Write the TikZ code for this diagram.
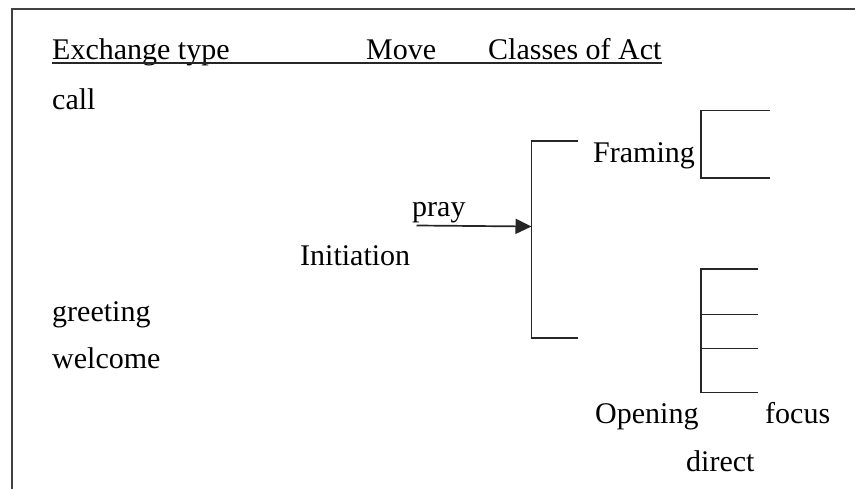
\documentclass[tikz,border=0pt]{standalone}
\usepackage{fontspec}
\setmainfont{Liberation Serif}
\usetikzlibrary{arrows.meta,calc}
\begin{document}
\begin{tikzpicture}[x=1pt,y=-1pt,
  lbl/.style={anchor=base west,inner sep=0pt,font=\fontsize{30}{34}\selectfont},
  ln/.style={line width=1.7pt,draw=black!85},
  frame/.style={line width=2.2pt,draw=black!75}]
\useasboundingbox (0,0) rectangle (855,489);
\fill[white] (0,0) rectangle (855,489);
% frame
\draw[frame] (12,489) -- (12,9) -- (855,9);
% header
\node[lbl] (hex) at (52,59.5) {Exchange type};
\node[lbl] (hmv) at (366,59.5) {Move};
\node[lbl] (hca) at (488,59.5) {Classes of Act};
\draw[ln,line width=1.8pt] ($(hex.base west)+(0,3.5)$) -- ($(hca.base east)+(0,3.5)$);
% left column
\node[lbl] (call) at (52,110) {call};
\node[lbl] (greet) at (52,321.5) {greeting};
\node[lbl] (welc) at (52,368) {welcome};
% middle
\node[lbl] (init) at (300,266) {Initiation};
\node[lbl] (pray) at (412,216.5) {pray};
% main bracket
\coordinate (b1t) at (577.5,141);
\coordinate (b1b) at (577.5,338);
\coordinate (b1m) at (531.5,226.5);
\draw[ln] (b1t) -- (531.5,141) -- (531.5,338) -- (b1b);
\coordinate (pst) at (416.5,225.5);
\draw[ln,-{Triangle[length=16pt,width=15pt]}] (pst) -- (b1m);
% Framing
\node[lbl] (fram) at (593,162.5) {Framing};
\draw[ln] (770,110.5) -- (701,110.5) -- (701,178) -- (770,178);
% Opening bracket
\draw[ln] (758,269) -- (701,269) -- (701,392.5) -- (758,392.5);
\draw[ln] (701,314.5) -- (758,314.5);
\draw[ln] (701,348.5) -- (758,348.5);
% bottom labels
\node[lbl] (open) at (595,423) {Opening};
\node[lbl] (focus) at (765,423) {focus};
\node[lbl] (direct) at (686,471.5) {direct};
\end{tikzpicture}
\end{document}
